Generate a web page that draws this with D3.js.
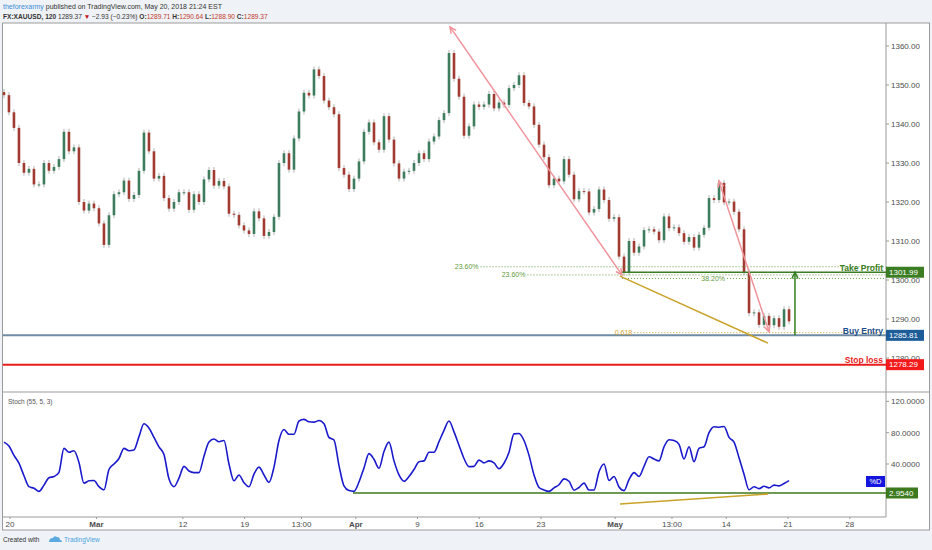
<!DOCTYPE html>
<html>
<head>
<meta charset="utf-8">
<script src="https://cdn.jsdelivr.net/npm/d3@7"></script>
<style>
  body { margin: 0; background: #eff2f6; }
  svg { display: block; font-family: "Liberation Sans", Arial, sans-serif; }
</style>
</head>
<body>
<div id="chart"></div>
<script>
// XAUUSD 120 closes, sampled along the chart (one value every ~0.4 trading day)
const closes = [
  1347.4, 1343, 1339, 1330, 1327.5, 1328.5, 1324.5, 1324.5, 1330, 1328,
  1329, 1331, 1338, 1333, 1334, 1320, 1317.8, 1319.6, 1318.4, 1314.5,
  1309, 1316.6, 1322, 1322.5, 1325.5, 1320.8, 1321.8, 1328, 1337.8, 1333,
  1326, 1326.7, 1321, 1318.3, 1320, 1322.5, 1322.5, 1318, 1322, 1320,
  1325.8, 1328.2, 1324.2, 1325.4, 1324, 1317, 1316.7, 1314, 1312.7, 1311.8,
  1317.6, 1315.8, 1311.3, 1312.3, 1316.2, 1330, 1332.5, 1328.3, 1336.3, 1343.2,
  1348, 1347.3, 1354, 1352.3, 1346, 1344.3, 1342.5, 1328.7, 1327, 1323.3,
  1326, 1330.4, 1338, 1340.4, 1335.3, 1333.4, 1342, 1336, 1329.9, 1326,
  1327.8, 1328, 1330, 1332.5, 1331, 1335.5, 1336.8, 1341, 1342.8, 1358.2,
  1351.6, 1347, 1337, 1339.4, 1345, 1344.4, 1345, 1347.7, 1344, 1345.5,
  1344.9, 1349.2, 1350, 1352.5, 1345.4, 1344.5, 1339.8, 1334.7, 1331.5, 1324.3,
  1326, 1325.3, 1331, 1327, 1320.7, 1322.8, 1322.7, 1317.3, 1318.2, 1323.2,
  1320.5, 1315.7, 1316.1, 1306, 1302, 1310, 1307, 1308.6, 1312.8, 1313,
  1312.4, 1310.2, 1316.3, 1313.3, 1313.5, 1312, 1309.8, 1311, 1308.3, 1311.6,
  1313.4, 1321, 1320.5, 1324.9, 1319.9, 1320.1, 1317.5, 1313, 1302, 1291.5,
  1291.7, 1288.5, 1290.8, 1288.4, 1290.2, 1288, 1292.5, 1289.4
];

// Stoch (55, 5, 3) %D at the same bars
const stochD = [
  68, 63, 51, 41, 25, 11, 9, 5, 13, 22.5,
  24, 29.4, 60, 55, 57, 42, 15.5, 18.5, 19, 11,
  7, 33, 40, 47, 60, 57, 58, 75, 91.5, 86,
  74, 62, 52, 21, 11, 22, 37, 31, 29, 29,
  50, 68, 72, 68.5, 70, 40, 18.5, 26, 16, 11,
  27, 36, 26, 16.5, 36, 70, 84, 78, 78, 95,
  97, 94, 93.5, 95.5, 91.5, 74, 70.7, 38, 12, 6,
  5, 17, 35, 53.2, 46, 34.5, 56, 68, 44, 26,
  18, 24, 33, 43, 44, 55, 55, 68.5, 83, 95,
  81, 64, 47, 36.6, 37, 45, 41.5, 44, 41.5, 34,
  41, 55, 78.5, 79, 70, 51, 26, 10, 6.8, 5,
  9.5, 13.5, 21, 18, 6.5, 10, 15.5, 6.8, 6.8, 30,
  40, 19, 24, 10.5, 6, 20, 29, 24, 37, 49.3,
  46.4, 44, 62, 71, 70, 65, 46.4, 62, 43, 60,
  62, 80, 87.7, 87, 88, 74, 68, 48, 27, 7,
  11, 8.5, 11.5, 9.5, 13, 12, 15, 18.7
];

// time axis (position in trading days from Feb 20)
const tickDays = [0, 7, 14, 19, 23.6, 28, 33, 38, 43, 49, 53.6, 58, 63, 68];
const tickLabels = ["20", "Mar", "12", "19", "13:00", "Apr", "9", "16", "23", "May", "13:00", "14", "21", "28"];
const boldTicks = ["Mar", "Apr", "May"];
const firstBarDay = -0.49, lastBarDay = 63.08;

const priceTicks = [1280, 1290, 1300, 1310, 1320, 1330, 1340, 1350, 1360];
const stochTicks = [40, 80, 120];

const takeProfit = 1301.99, buyEntry = 1285.81, stopLoss = 1278.29;
const stochLevel = 2.954;

// fib levels: value, label, start day of the dotted line
const fibValues = [1303.4, 1301.3, 1300.4, 1286.5];
const fibLabels = ["23.60%", "23.60%", "38.20%", "0.618"];
const fibStartDays = [38.1, 41.9, 49.55, 50.55];

// drawn trend annotations [day, value]
const pinkArrow1 = [[35.63, 1364.9], [49.55, 1301.3]];
const pinkArrow2 = [[57.4, 1325.4], [61.46, 1286.7]];
const goldLine = [[49.39, 1301.0], [61.38, 1283.8]];
const stochGoldLine = [[49.39, -11], [61.38, 1.7]];
const stochLevelStart = 27.77;
const tpLineStart = 49.55;
const targetArrowDay = 63.56;

const width = 932, height = 550;
const frameLeft = 2.5, frameTop = 23, axisX = 886, outerRight = 929.5;
const sepY = 392, timeY = 517, frameBottom = 530;

const xDay = d3.scaleLinear().domain([0, 68]).range([10, 10 + 68 * 12.35]);
const barX = d3.scaleLinear().domain([0, closes.length - 1]).range([xDay(firstBarDay), xDay(lastBarDay)]);
const y = d3.scaleLinear().domain([1280, 1360]).range([358, 46]);
const yS = d3.scaleLinear().domain([0, 120]).range([495.3, 401.4]);

const svg = d3.create("svg").attr("width", width).attr("height", height);

// background and frame
svg.append("rect").attr("width", width).attr("height", height).attr("fill", "#eff2f6");
svg.append("rect").attr("x", frameLeft).attr("y", frameTop).attr("width", outerRight - frameLeft).attr("height", frameBottom - frameTop)
  .attr("fill", "#fff").attr("stroke", "#9b9b9b");

const defs = svg.append("defs");
defs.append("clipPath").attr("id", "clipMain").append("rect")
  .attr("x", frameLeft).attr("y", frameTop).attr("width", axisX - frameLeft).attr("height", sepY - frameTop);
defs.append("clipPath").attr("id", "clipStoch").append("rect")
  .attr("x", frameLeft).attr("y", sepY).attr("width", axisX - frameLeft).attr("height", timeY - sepY);

// header
const head1 = svg.append("text").attr("x", 3).attr("y", 9).attr("font-size", 7);
head1.append("tspan").attr("fill", "#3d8fd6").text("theforexarmy");
head1.append("tspan").attr("fill", "#333").text(" published on TradingView.com, May 20, 2018 21:24 EST");
const head2 = svg.append("text").attr("x", 3).attr("y", 18.5).attr("font-size", 6.6).attr("fill", "#333");
head2.append("tspan").attr("font-weight", "bold").text("FX:XAUUSD, 120 ");
head2.append("tspan").text("1289.37 ");
head2.append("tspan").attr("fill", "#c0161b").text("▼");
head2.append("tspan").text(" −2.93 (−0.23%) ");
[["O:", "1289.71"], ["H:", "1290.64"], ["L:", "1288.90"], ["C:", "1289.37"]].forEach(([k, v]) => {
  head2.append("tspan").attr("font-weight", "bold").text(k);
  head2.append("tspan").attr("fill", "#c0392b").text(v + " ");
});

// panel lines
svg.append("line").attr("x1", frameLeft).attr("x2", outerRight).attr("y1", sepY).attr("y2", sepY).attr("stroke", "#9b9b9b");
svg.append("line").attr("x1", frameLeft).attr("x2", axisX).attr("y1", timeY).attr("y2", timeY).attr("stroke", "#9b9b9b");
svg.append("line").attr("x1", axisX).attr("x2", axisX).attr("y1", frameTop).attr("y2", timeY).attr("stroke", "#9b9b9b");

// price axis
const pAxis = svg.append("g").attr("font-size", 8).attr("fill", "#4d4d4d");
priceTicks.forEach(p => {
  pAxis.append("line").attr("x1", axisX).attr("x2", axisX + 3).attr("y1", y(p)).attr("y2", y(p)).attr("stroke", "#9b9b9b");
  pAxis.append("text").attr("x", axisX + 5).attr("y", y(p)).attr("dy", "0.35em").text(p.toFixed(2));
});
const sAxis = svg.append("g").attr("font-size", 8).attr("fill", "#4d4d4d");
stochTicks.forEach(v => {
  sAxis.append("line").attr("x1", axisX).attr("x2", axisX + 3).attr("y1", yS(v)).attr("y2", yS(v)).attr("stroke", "#9b9b9b");
  sAxis.append("text").attr("x", axisX + 5).attr("y", yS(v)).attr("dy", "0.35em").text(v.toFixed(4));
});

// time axis
const tAxis = svg.append("g").attr("font-size", 8).attr("fill", "#4d4d4d");
tickDays.forEach((d, i) => {
  const tx = xDay(d);
  tAxis.append("line").attr("x1", tx).attr("x2", tx).attr("y1", timeY).attr("y2", timeY + 2).attr("stroke", "#9b9b9b");
  tAxis.append("text").attr("x", tx).attr("y", 524).attr("dy", "0.35em").attr("text-anchor", "middle")
    .attr("font-weight", boldTicks.includes(tickLabels[i]) ? "bold" : "normal").text(tickLabels[i]);
});

// main panel
const main = svg.append("g").attr("clip-path", "url(#clipMain)");

// candles (open = previous close)
const candles = main.append("g");
closes.forEach((c, i) => {
  const o = i > 0 ? closes[i - 1] : c + 0.8;
  const cx = barX(i);
  const up = c >= o;
  const y1 = y(Math.max(o, c)), y2 = y(Math.min(o, c));
  candles.append("line").attr("x1", cx).attr("x2", cx).attr("y1", y1 - 3).attr("y2", y2 + 3)
    .attr("stroke", "#b3b3b3").attr("stroke-width", 1);
  candles.append("rect").attr("x", cx - 1.3).attr("width", 2.6)
    .attr("y", y1).attr("height", Math.max(1, y2 - y1))
    .attr("fill", up ? "#3d7d5d" : "#a13a30");
});

function arrowHead(g, x1, y1, x2, y2, color) {
  const a = Math.atan2(y2 - y1, x2 - x1), s = 7, w = 0.45;
  g.append("path")
    .attr("d", `M${x2 - s * Math.cos(a - w)},${y2 - s * Math.sin(a - w)}L${x2},${y2}L${x2 - s * Math.cos(a + w)},${y2 - s * Math.sin(a + w)}`)
    .attr("fill", "none").attr("stroke", color).attr("stroke-width", 1.5);
}

// fib levels
fibValues.forEach((v, i) => {
  const gold = fibLabels[i] === "0.618";
  const col = gold ? "#c9a227" : "#6c9c45";
  main.append("line").attr("x1", xDay(fibStartDays[i])).attr("x2", axisX).attr("y1", y(v)).attr("y2", y(v))
    .attr("stroke", col).attr("stroke-width", 1).attr("stroke-dasharray", "1,2");
});

// take profit / buy entry / stop loss lines
main.append("line").attr("x1", xDay(tpLineStart)).attr("x2", axisX).attr("y1", y(takeProfit)).attr("y2", y(takeProfit))
  .attr("stroke", "#3b7d23").attr("stroke-width", 1.5);
main.append("line").attr("x1", frameLeft).attr("x2", axisX).attr("y1", y(buyEntry)).attr("y2", y(buyEntry))
  .attr("stroke", "#6f8ca4").attr("stroke-width", 2);
main.append("line").attr("x1", frameLeft).attr("x2", axisX).attr("y1", y(stopLoss)).attr("y2", y(stopLoss))
  .attr("stroke", "#ea1c1c").attr("stroke-width", 2);

// fib labels
fibValues.forEach((v, i) => {
  const gold = fibLabels[i] === "0.618";
  const isMid = fibLabels[i] === "38.20%";
  const lx = isMid ? xDay(57.9) : xDay(fibStartDays[i]) - 2;
  if (isMid) {
    main.append("rect").attr("x", lx - 25).attr("y", y(v) - 3).attr("width", 25).attr("height", 6).attr("fill", "#fff");
  }
  main.append("text").attr("x", lx).attr("y", y(v)).attr("dy", "0.35em").attr("text-anchor", "end")
    .attr("font-size", 7).attr("fill", gold ? "#c9a227" : "#5f9a3a").text(fibLabels[i]);
});

// gold trend line
main.append("line")
  .attr("x1", xDay(goldLine[0][0])).attr("y1", y(goldLine[0][1]))
  .attr("x2", xDay(goldLine[1][0])).attr("y2", y(goldLine[1][1]))
  .attr("stroke", "#c9a227").attr("stroke-width", 1.5);

// pink arrows
[pinkArrow1, pinkArrow2].forEach(a => {
  const xa = xDay(a[0][0]), ya = y(a[0][1]), xb = xDay(a[1][0]), yb = y(a[1][1]);
  main.append("line").attr("x1", xa).attr("y1", ya).attr("x2", xb).attr("y2", yb)
    .attr("stroke", "#f0939b").attr("stroke-width", 1.5);
  arrowHead(main, xb, yb, xa, ya, "#f0939b");
  arrowHead(main, xa, ya, xb, yb, "#f0939b");
});

// target arrow
const tx0 = xDay(targetArrowDay);
main.append("line").attr("x1", tx0).attr("x2", tx0).attr("y1", y(buyEntry)).attr("y2", y(takeProfit))
  .attr("stroke", "#2f7d1e").attr("stroke-width", 1.5);
arrowHead(main, tx0, y(buyEntry), tx0, y(takeProfit), "#2f7d1e");

// level labels
[["Take Profit", takeProfit, "#3b7d23"], ["Buy Entry", buyEntry, "#1c4f8f"], ["Stop loss", stopLoss, "#e51c1c"]]
  .forEach(([label, v, col]) => {
    svg.append("text").attr("x", axisX - 3).attr("y", y(v) - 1.5).attr("text-anchor", "end")
      .attr("font-size", 8.5).attr("font-weight", "bold").attr("fill", col).text(label);
  });

// right-axis value tags
function tag(yy, text, col) {
  svg.append("rect").attr("x", axisX).attr("y", yy - 5.5).attr("width", 38).attr("height", 11).attr("fill", col);
  svg.append("text").attr("x", axisX + 3).attr("y", yy).attr("dy", "0.35em").attr("font-size", 8)
    .attr("fill", "#fff").text(text);
}
tag(y(takeProfit), takeProfit.toFixed(2), "#3b7d23");
tag(y(buyEntry), buyEntry.toFixed(2), "#1c5d99");
tag(y(stopLoss), stopLoss.toFixed(2), "#f21a1a");

// stochastic panel
const st = svg.append("g").attr("clip-path", "url(#clipStoch)");
st.append("text").attr("x", 8).attr("y", 404).attr("font-size", 6.5).attr("fill", "#555").text("Stoch (55, 5, 3)");

st.append("line").attr("x1", xDay(stochLevelStart)).attr("x2", axisX).attr("y1", yS(stochLevel)).attr("y2", yS(stochLevel))
  .attr("stroke", "#3d7a1d").attr("stroke-width", 1.5);
st.append("line")
  .attr("x1", xDay(stochGoldLine[0][0])).attr("y1", yS(stochGoldLine[0][1]))
  .attr("x2", xDay(stochGoldLine[1][0])).attr("y2", yS(stochGoldLine[1][1]))
  .attr("stroke", "#c9a227").attr("stroke-width", 1.5);

const line = d3.line().x((d, i) => barX(i)).y(d => yS(d)).curve(d3.curveMonotoneX);
st.append("path").datum(stochD).attr("d", line).attr("fill", "none")
  .attr("stroke", "#1a1acc").attr("stroke-width", 1.6);

// %D tag and level tag
svg.append("rect").attr("x", axisX - 20).attr("y", 476).attr("width", 19).attr("height", 11).attr("fill", "#1515e0");
svg.append("text").attr("x", axisX - 10.5).attr("y", 481.5).attr("dy", "0.35em").attr("text-anchor", "middle")
  .attr("font-size", 7.5).attr("fill", "#fff").text("%D");
svg.append("rect").attr("x", axisX).attr("y", yS(stochLevel) - 5.5).attr("width", 32).attr("height", 11).attr("fill", "#3d7a1d");
svg.append("text").attr("x", axisX + 3).attr("y", yS(stochLevel)).attr("dy", "0.35em").attr("font-size", 8)
  .attr("fill", "#fff").text(stochLevel.toFixed(4));

// footer
svg.append("text").attr("x", 3).attr("y", 542).attr("font-size", 6.5).attr("fill", "#333").text("Created with");
svg.append("path").attr("d", "M49,542 q0,-4 4,-4 q1,-3 4,-1 q3,0 3,3 q2,0 2,2 z").attr("fill", "#5aa9e0");
svg.append("text").attr("x", 64).attr("y", 542).attr("font-size", 6.5).attr("fill", "#4aa3df").text("TradingView");

document.getElementById("chart").append(svg.node());
</script>
</body>
</html>
